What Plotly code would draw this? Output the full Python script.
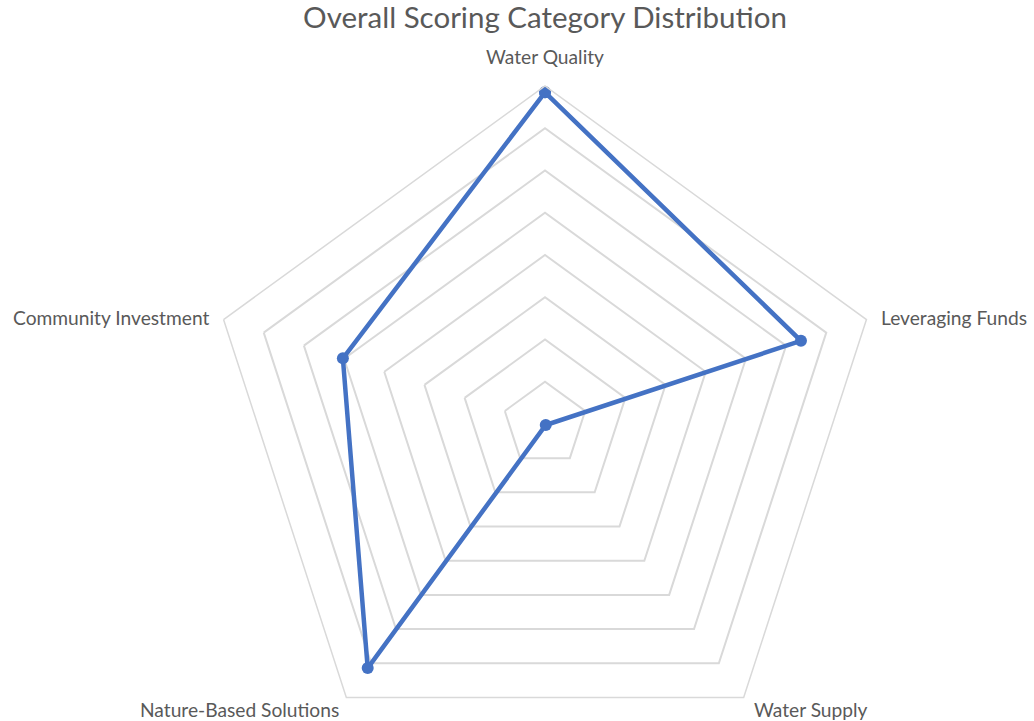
import plotly.graph_objects as go

categories = ["Water Quality", "Leveraging Funds", "Water Supply",
              "Nature-Based Solutions", "Community Investment"]
scores = [7.85, 6.37, 0.03, 7.14, 5.03]
radial_ticks = [1, 2, 3, 4, 5, 6, 7, 8]

theta = categories + categories[:1]
r = scores + scores[:1]

TEXT = "#595959"
GRID = "#D9D9D9"
BLUE = "#4472C4"
FONT = "Lato"

W, H = 1034, 762

fig = go.Figure()
fig.add_trace(go.Scatterpolar(
    r=r, theta=theta, mode="lines+markers",
    line=dict(color=BLUE, width=4.5),
    marker=dict(color=BLUE, size=12),
    showlegend=False, cliponaxis=False,
))

# category label placement (pixel position, anchors) - layout only
label_pos = {
    "Water Quality": (545, 57, "center"),
    "Leveraging Funds": (879, 317, "left"),
    "Water Supply": (752, 709, "left"),
    "Nature-Based Solutions": (341, 709, "right"),
    "Community Investment": (211, 317, "right"),
}
for cat in categories:
    px, py, xa = label_pos[cat]
    fig.add_annotation(text=cat, x=px / W, y=1 - py / H, xref="paper", yref="paper",
                       xanchor=xa, yanchor="middle", showarrow=False,
                       font=dict(family=FONT, size=19.2, color=TEXT))

fig.update_layout(
    width=W, height=H,
    margin=dict(l=0, r=0, t=0, b=0),
    paper_bgcolor="white", plot_bgcolor="white",
    font=dict(family=FONT, color=TEXT),
    title=dict(text="Overall Scoring Category Distribution",
               x=545 / W, xanchor="center", xref="paper",
               y=1 - 18 / H, yanchor="middle", yref="container",
               font=dict(family=FONT, size=29.5, color=TEXT)),
    polar=dict(
        domain=dict(x=[56 / W, 1], y=[0, 676 / H]),
        bgcolor="white",
        gridshape="linear",
        radialaxis=dict(range=[0, 8], tickvals=radial_ticks,
                        showticklabels=False, showline=False, ticks="",
                        gridcolor=GRID, gridwidth=1.5),
        angularaxis=dict(direction="clockwise", rotation=90,
                         showgrid=False, showline=True, linecolor=GRID,
                         linewidth=1.5, ticks="", showticklabels=False),
    ),
)

fig.write_html("out.html", config={"displayModeBar": False},
               post_script="document.body.style.margin='0';document.body.style.overflow='hidden';document.documentElement.style.overflow='hidden';")
